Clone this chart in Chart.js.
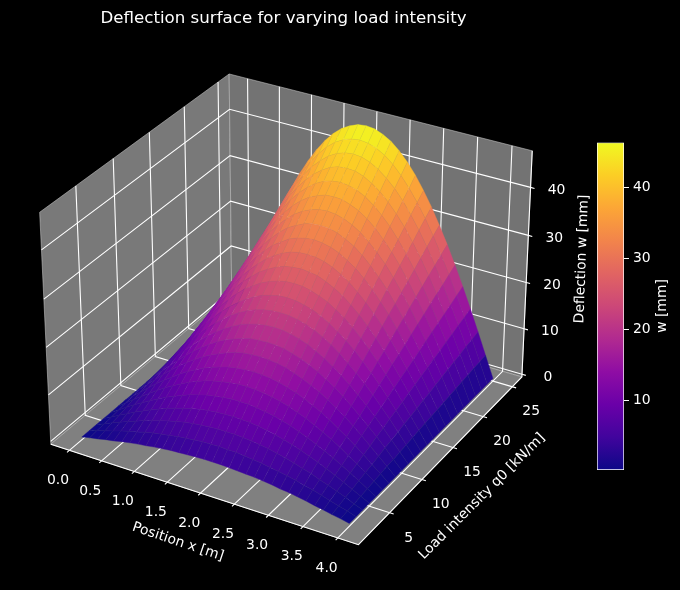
<!DOCTYPE html>
<html>
<head>
<meta charset="utf-8">
<style>
  html, body { margin: 0; padding: 0; background: #000; width: 680px; height: 590px; overflow: hidden; }
  canvas { position: absolute; display: block; }
  #surface { left: 0; top: 0; z-index: 2; }
  #colorbar { left: 590px; top: 130px; z-index: 1; }
</style>
<script src="https://cdn.jsdelivr.net/npm/chart.js@4"></script>
</head>
<body>
<canvas id="colorbar" width="90" height="360"></canvas>
<canvas id="surface" width="680" height="590"></canvas>
<script>
// values
const positions = [0, 0.125, 0.25, 0.375, 0.5, 0.625, 0.75, 0.875, 1, 1.125, 1.25, 1.375, 1.5, 1.625, 1.75, 1.875, 2,
  2.125, 2.25, 2.375, 2.5, 2.625, 2.75, 2.875, 3, 3.125, 3.25, 3.375, 3.5, 3.625, 3.75, 3.875, 4];
const loads = [2, 3, 4, 5, 6, 7, 8, 9, 10, 11, 12, 13, 14, 15, 16, 17, 18, 19, 20, 21, 22, 23, 24, 25];
// one row per load, one column per position
const deflection = [
  [0,.4,.7,1.1,1.4,1.8,2.1,2.4,2.6,2.9,3.1,3.3,3.4,3.5,3.6,3.7,3.7,3.7,3.6,3.5,3.4,3.3,3.1,2.9,2.6,2.4,2.1,1.8,1.4,1.1,.7,.4,0],
  [0,.6,1.1,1.6,2.2,2.7,3.1,3.6,4.0,4.3,4.6,4.9,5.1,5.3,5.5,5.5,5.6,5.5,5.5,5.3,5.1,4.9,4.6,4.3,4.0,3.6,3.1,2.7,2.2,1.6,1.1,.6,0],
  [0,.7,1.5,2.2,2.9,3.5,4.2,4.7,5.3,5.8,6.2,6.6,6.9,7.1,7.3,7.4,7.4,7.4,7.3,7.1,6.9,6.6,6.2,5.8,5.3,4.7,4.2,3.5,2.9,2.2,1.5,.7,0],
  [0,.9,1.8,2.7,3.6,4.4,5.2,5.9,6.6,7.2,7.7,8.2,8.6,8.9,9.1,9.2,9.3,9.2,9.1,8.9,8.6,8.2,7.7,7.2,6.6,5.9,5.2,4.4,3.6,2.7,1.8,.9,0],
  [0,1.1,2.2,3.3,4.3,5.3,6.2,7.1,7.9,8.6,9.3,9.8,10.3,10.6,10.9,11.1,11.1,11.1,10.9,10.6,10.3,9.8,9.3,8.6,7.9,7.1,6.2,5.3,4.3,3.3,2.2,1.1,0],
  [0,1.3,2.6,3.8,5.0,6.2,7.3,8.3,9.2,10.1,10.8,11.5,12.0,12.4,12.7,12.9,13.0,12.9,12.7,12.4,12.0,11.5,10.8,10.1,9.2,8.3,7.3,6.2,5.0,3.8,2.6,1.3,0],
  [0,1.5,2.9,4.4,5.8,7.1,8.3,9.5,10.6,11.5,12.4,13.1,13.7,14.2,14.5,14.7,14.8,14.7,14.5,14.2,13.7,13.1,12.4,11.5,10.6,9.5,8.3,7.1,5.8,4.4,2.9,1.5,0],
  [0,1.7,3.3,4.9,6.5,8.0,9.4,10.7,11.9,13.0,13.9,14.7,15.4,16.0,16.4,16.6,16.7,16.6,16.4,16.0,15.4,14.7,13.9,13.0,11.9,10.7,9.4,8.0,6.5,4.9,3.3,1.7,0],
  [0,1.8,3.7,5.5,7.2,8.8,10.4,11.9,13.2,14.4,15.5,16.4,17.1,17.7,18.2,18.4,18.5,18.4,18.2,17.7,17.1,16.4,15.5,14.4,13.2,11.9,10.4,8.8,7.2,5.5,3.7,1.8,0],
  [0,2.0,4.0,6.0,7.9,9.7,11.4,13.0,14.5,15.8,17.0,18.0,18.9,19.5,20.0,20.3,20.4,20.3,20.0,19.5,18.9,18.0,17.0,15.8,14.5,13.0,11.4,9.7,7.9,6.0,4.0,2.0,0],
  [0,2.2,4.4,6.6,8.6,10.6,12.5,14.2,15.8,17.3,18.6,19.7,20.6,21.3,21.8,22.1,22.2,22.1,21.8,21.3,20.6,19.7,18.6,17.3,15.8,14.2,12.5,10.6,8.6,6.6,4.4,2.2,0],
  [0,2.4,4.8,7.1,9.3,11.5,13.5,15.4,17.2,18.7,20.1,21.3,22.3,23.1,23.6,24.0,24.1,24.0,23.6,23.1,22.3,21.3,20.1,18.7,17.2,15.4,13.5,11.5,9.3,7.1,4.8,2.4,0],
  [0,2.6,5.1,7.6,10.1,12.4,14.6,16.6,18.5,20.2,21.7,22.9,24.0,24.8,25.4,25.8,25.9,25.8,25.4,24.8,24.0,22.9,21.7,20.2,18.5,16.6,14.6,12.4,10.1,7.6,5.1,2.6,0],
  [0,2.8,5.5,8.2,10.8,13.3,15.6,17.8,19.8,21.6,23.2,24.6,25.7,26.6,27.3,27.6,27.8,27.6,27.3,26.6,25.7,24.6,23.2,21.6,19.8,17.8,15.6,13.3,10.8,8.2,5.5,2.8,0],
  [0,3.0,5.9,8.7,11.5,14.1,16.6,19.0,21.1,23.0,24.7,26.2,27.4,28.4,29.1,29.5,29.6,29.5,29.1,28.4,27.4,26.2,24.7,23.0,21.1,19.0,16.6,14.1,11.5,8.7,5.9,3.0,0],
  [0,3.1,6.2,9.3,12.2,15.0,17.7,20.2,22.4,24.5,26.3,27.9,29.1,30.2,30.9,31.3,31.5,31.3,30.9,30.2,29.1,27.9,26.3,24.5,22.4,20.2,17.7,15.0,12.2,9.3,6.2,3.1,0],
  [0,3.3,6.6,9.8,12.9,15.9,18.7,21.3,23.8,25.9,27.8,29.5,30.9,31.9,32.7,33.2,33.3,33.2,32.7,31.9,30.9,29.5,27.8,25.9,23.8,21.3,18.7,15.9,12.9,9.8,6.6,3.3,0],
  [0,3.5,7.0,10.4,13.7,16.8,19.8,22.5,25.1,27.4,29.4,31.1,32.6,33.7,34.5,35.0,35.2,35.0,34.5,33.7,32.6,31.1,29.4,27.4,25.1,22.5,19.8,16.8,13.7,10.4,7.0,3.5,0],
  [0,3.7,7.4,10.9,14.4,17.7,20.8,23.7,26.4,28.8,30.9,32.8,34.3,35.5,36.3,36.9,37.0,36.9,36.3,35.5,34.3,32.8,30.9,28.8,26.4,23.7,20.8,17.7,14.4,10.9,7.4,3.7,0],
  [0,3.9,7.7,11.5,15.1,18.6,21.9,24.9,27.7,30.2,32.5,34.4,36.0,37.3,38.2,38.7,38.9,38.7,38.2,37.3,36.0,34.4,32.5,30.2,27.7,24.9,21.9,18.6,15.1,11.5,7.7,3.9,0],
  [0,4.1,8.1,12.0,15.8,19.5,22.9,26.1,29.0,31.7,34.0,36.0,37.7,39.0,40.0,40.6,40.7,40.6,40.0,39.0,37.7,36.0,34.0,31.7,29.0,26.1,22.9,19.5,15.8,12.0,8.1,4.1,0],
  [0,4.3,8.5,12.6,16.5,20.3,23.9,27.3,30.4,33.1,35.6,37.7,39.4,40.8,41.8,42.4,42.6,42.4,41.8,40.8,39.4,37.7,35.6,33.1,30.4,27.3,23.9,20.3,16.5,12.6,8.5,4.3,0],
  [0,4.4,8.8,13.1,17.3,21.2,25.0,28.5,31.7,34.6,37.1,39.3,41.2,42.6,43.6,44.2,44.4,44.2,43.6,42.6,41.2,39.3,37.1,34.6,31.7,28.5,25.0,21.2,17.3,13.1,8.8,4.4,0],
  [0,4.6,9.2,13.7,18.0,22.1,26.0,29.6,33.0,36.0,38.7,41.0,42.9,44.4,45.4,46.1,46.3,46.1,45.4,44.4,42.9,41.0,38.7,36.0,33.0,29.6,26.0,22.1,18.0,13.7,9.2,4.6,0]
];
const xTicks = [0, 0.5, 1, 1.5, 2, 2.5, 3, 3.5, 4];
const qTicks = [5, 10, 15, 20, 25];
const zTicks = [0, 10, 20, 30, 40];
const colorbarTicks = [10, 20, 30, 40];
const colorRange = [0.14, 46.3];

// axis limits of the 3d box
const xLim = [-0.2917, 4.2917];
const qLim = [0.32, 26.68];
const zLim = [-0.6, 47.5];

const plasma = [[13,8,135],[65,4,157],[106,0,168],[143,13,164],[177,42,144],[204,71,120],[225,100,98],[242,132,75],[252,166,54],[252,206,37],[240,249,33]];

// default 3d view: elev 30, azim -60, box 4:4:3, focal length 1, distance 10
const box = [1.1906, 1.1906, 0.8929];
const u = [0.8660, 0.5, 0];
const v = [-0.25, 0.4330, 0.8660];
const w = [0.4330, -0.75, 0.5];
const pxPerUnit = 2960, originX = 290.7, originY = 298;

function project(x, q, z) {
  const d = [
    ((x - xLim[0]) / (xLim[1] - xLim[0]) - 0.5) * box[0],
    ((q - qLim[0]) / (qLim[1] - qLim[0]) - 0.5) * box[1],
    ((z - zLim[0]) / (zLim[1] - zLim[0]) - 0.5) * box[2]
  ];
  const dot = (a) => a[0] * d[0] + a[1] * d[1] + a[2] * d[2];
  const depth = 10 - dot(w);
  return { x: dot(u) / depth, y: dot(v) / depth };
}

function plasmaColor(t) {
  const p = Math.max(0, Math.min(1, t)) * (plasma.length - 1);
  const i = Math.min(Math.floor(p), plasma.length - 2);
  const f = p - i;
  return plasma[i].map((c, k) => c + (plasma[i + 1][k] - c) * f);
}
const rgb = (c) => `rgb(${c.map(Math.round).join(',')})`;

// cell colour is the mean of its four corners
function cellMean(r, c) {
  return (deflection[r][c] + deflection[r][c + 1] + deflection[r + 1][c] + deflection[r + 1][c + 1]) / 4;
}

const drawList = [];

function addPane(corners, color) {
  drawList.push({
    data: corners.concat([corners[0]]).map(p => project(p[0], p[1], p[2])),
    backgroundColor: color,
    borderColor: 'rgba(200,200,200,0.55)',
    borderWidth: 1,
    fill: 'shape'
  });
}

function addLine(points, color, width) {
  drawList.push({
    data: points.map(p => project(p[0], p[1], p[2])),
    borderColor: color,
    borderWidth: width,
    fill: false
  });
}

// panes
addPane([[xLim[0], qLim[0], zLim[0]], [xLim[0], qLim[1], zLim[0]], [xLim[0], qLim[1], zLim[1]], [xLim[0], qLim[0], zLim[1]]], '#797979');
addPane([[xLim[0], qLim[1], zLim[0]], [xLim[1], qLim[1], zLim[0]], [xLim[1], qLim[1], zLim[1]], [xLim[0], qLim[1], zLim[1]]], '#737373');
addPane([[xLim[0], qLim[0], zLim[0]], [xLim[1], qLim[0], zLim[0]], [xLim[1], qLim[1], zLim[0]], [xLim[0], qLim[1], zLim[0]]], '#808080');

// grid and tick marks
const tickOutX = (xLim[1] - xLim[0]) * 0.0125;
const tickOutQ = (qLim[1] - qLim[0]) * 0.0125;
xTicks.forEach(t => addLine([[t, qLim[0] - tickOutQ, zLim[0]], [t, qLim[1], zLim[0]], [t, qLim[1], zLim[1]]], '#fff', 1.1));
qTicks.forEach(t => addLine([[xLim[1] + tickOutX, t, zLim[0]], [xLim[0], t, zLim[0]], [xLim[0], t, zLim[1]]], '#fff', 1.1));
zTicks.forEach(t => addLine([[xLim[0], qLim[0], t], [xLim[0], qLim[1], t], [xLim[1], qLim[1], t], [xLim[1] + tickOutX, qLim[1], t]], '#fff', 1.1));

// axis lines
addLine([[xLim[0], qLim[0], zLim[0]], [xLim[1], qLim[0], zLim[0]], [xLim[1], qLim[1], zLim[0]], [xLim[1], qLim[1], zLim[1]]], '#fff', 1.1);

// surface cells, far corner first
for (let r = loads.length - 2; r >= 0; r--) {
  for (let c = 0; c < positions.length - 1; c++) {
    const col = plasmaColor((cellMean(r, c) - colorRange[0]) / (colorRange[1] - colorRange[0]));
    const edge = col.map(k => k * 0.88 + 128 * 0.12);
    drawList.push({
      data: [
        project(positions[c], loads[r], deflection[r][c]),
        project(positions[c + 1], loads[r], deflection[r][c + 1]),
        project(positions[c + 1], loads[r + 1], deflection[r + 1][c + 1]),
        project(positions[c], loads[r + 1], deflection[r + 1][c]),
        project(positions[c], loads[r], deflection[r][c])
      ],
      backgroundColor: rgb(col),
      borderColor: rgb(edge),
      borderWidth: 0.4,
      fill: 'shape'
    });
  }
}

const FONT = 'DejaVu Sans';

function drawRotated(ctx, text, x, y, angle, size) {
  ctx.save();
  ctx.translate(x, y);
  ctx.rotate(angle * Math.PI / 180);
  ctx.font = `${size}px "${FONT}"`;
  ctx.fillStyle = '#fff';
  ctx.textAlign = 'center';
  ctx.textBaseline = 'middle';
  ctx.fillText(text, 0, 0);
  ctx.restore();
}

const axisText = {
  id: 'axisText',
  afterDraw(chart) {
    const ctx = chart.ctx;
    const sx = chart.scales.x, sy = chart.scales.y;
    const at = (p) => [sx.getPixelForValue(p.x), sy.getPixelForValue(p.y)];

    xTicks.forEach(t => {
      const [px, py] = at(project(t, qLim[0] - tickOutQ, zLim[0]));
      drawRotated(ctx, t.toFixed(1), px - 9, py + 28, 0, 13.9);
    });
    qTicks.forEach(t => {
      const [px, py] = at(project(xLim[1] + tickOutX, t, zLim[0]));
      drawRotated(ctx, String(t), px + 15, py + 24, 0, 13.9);
    });
    zTicks.forEach(t => {
      const [px, py] = at(project(xLim[1] + tickOutX, qLim[1], t));
      drawRotated(ctx, String(t), px + 22, py + 2, 0, 13.9);
    });

    drawRotated(ctx, 'Deflection surface for varying load intensity', 283.5, 19, 0, 16.67);
    drawRotated(ctx, 'Position x [m]', 178, 542, 18.5, 13.9);
    drawRotated(ctx, 'Load intensity q0 [kN/m]', 482, 496.5, -45, 13.9);
    drawRotated(ctx, 'Deflection w [mm]', 582, 259, -88, 13.9);
    drawRotated(ctx, 'w [mm]', 662, 306, -90, 13.9);
  }
};

// chart.js paints the first dataset last
const surfaceDatasets = drawList.slice().reverse().map(d => Object.assign({
  showLine: true,
  pointRadius: 0,
  pointHoverRadius: 0,
  clip: false
}, d));

new Chart(document.getElementById('surface'), {
  type: 'scatter',
  data: { datasets: surfaceDatasets },
  options: {
    responsive: false,
    animation: false,
    events: [],
    devicePixelRatio: 1,
    layout: { padding: 0 },
    scales: {
      x: { display: false, type: 'linear', min: -originX / pxPerUnit, max: (680 - originX) / pxPerUnit },
      y: { display: false, type: 'linear', min: (originY - 590) / pxPerUnit, max: originY / pxPerUnit }
    },
    plugins: {
      legend: { display: false },
      tooltip: { enabled: false },
      filler: { drawTime: 'beforeDatasetDraw' }
    }
  },
  plugins: [axisText]
});

function colorbarFill(ctx) {
  const area = ctx.chart.chartArea;
  if (!area) return '#000';
  const g = ctx.chart.ctx.createLinearGradient(0, area.bottom, 0, area.top);
  plasma.forEach((c, i) => g.addColorStop(i / (plasma.length - 1), rgb(c)));
  return g;
}

new Chart(document.getElementById('colorbar'), {
  type: 'bar',
  data: {
    labels: ['w'],
    datasets: [{
      data: [colorRange],
      backgroundColor: colorbarFill,
      borderColor: '#fff',
      borderWidth: 1,
      borderSkipped: false,
      barPercentage: 1,
      categoryPercentage: 1
    }]
  },
  options: {
    responsive: false,
    animation: false,
    events: [],
    devicePixelRatio: 1,
    layout: { padding: { left: 7, right: 0, top: 12.5, bottom: 20 } },
    scales: {
      x: { display: false },
      y: {
        position: 'right',
        min: colorRange[0],
        max: colorRange[1],
        afterBuildTicks: (scale) => { scale.ticks = colorbarTicks.map(t => ({ value: t })); },
        afterFit: (scale) => { scale.width = 56; },
        grid: { drawOnChartArea: false, drawTicks: true, tickLength: 5, tickColor: '#fff', tickWidth: 1 },
        border: { display: false },
        ticks: { color: '#fff', padding: 4, font: { family: FONT, size: 13.9 } }
      }
    },
    plugins: {
      legend: { display: false },
      tooltip: { enabled: false }
    }
  }
});
</script>
</body>
</html>
